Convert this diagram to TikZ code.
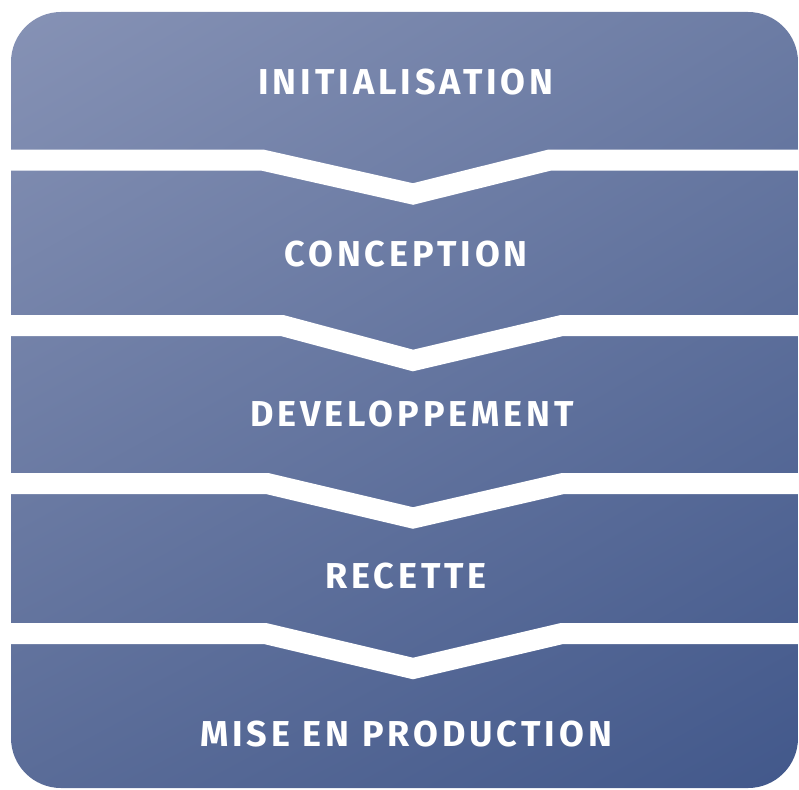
\documentclass[tikz,border=0pt]{standalone}
\usepackage{fontspec}
\newfontfamily\phasefont[LetterSpace=11]{Fira Sans}
\usetikzlibrary{calc,shadings}
\definecolor{boxul}{RGB}{134,146,181}
\definecolor{boxur}{RGB}{108,124,164}
\definecolor{boxll}{RGB}{90,108,152}
\definecolor{boxlr}{RGB}{66,88,139}

\begin{document}
\begin{tikzpicture}[x=1pt,y=-1pt,
  phase/.style={text=white, inner sep=0pt, font=\phasefont\bfseries\fontsize{36}{40}\selectfont},
  gap/.style={draw=white, line width=21pt, line cap=butt, line join=miter}]
\useasboundingbox (0,0) rectangle (799,789);

% background box
\shade[rounded corners=50pt, upper left=boxul, upper right=boxur,
  lower left=boxll, lower right=boxlr] (11,12) rectangle (798,788);

% white chevrons between the phases
\foreach \ya/\xl/\yb/\xr in {160/262/194/550, 325.5/282/360.5/562, 483.5/267/518/563, 633.5/265/668.5/562} {
  \draw[gap] (0,\ya) -- (\xl,\ya) -- (413,\yb) -- (\xr,\ya) -- (799,\ya);
}

% phases
\node[phase] (init) at (406,82) {INITIALISATION};
\node[phase] (conc) at (406,254) {CONCEPTION};
\node[phase] (dev)  at (412,414) {DEVELOPPEMENT};
\node[phase] (rec)  at (406,576) {RECETTE};
\node[phase] (prod) at (406,734) {MISE EN PRODUCTION};

\end{tikzpicture}
\end{document}
